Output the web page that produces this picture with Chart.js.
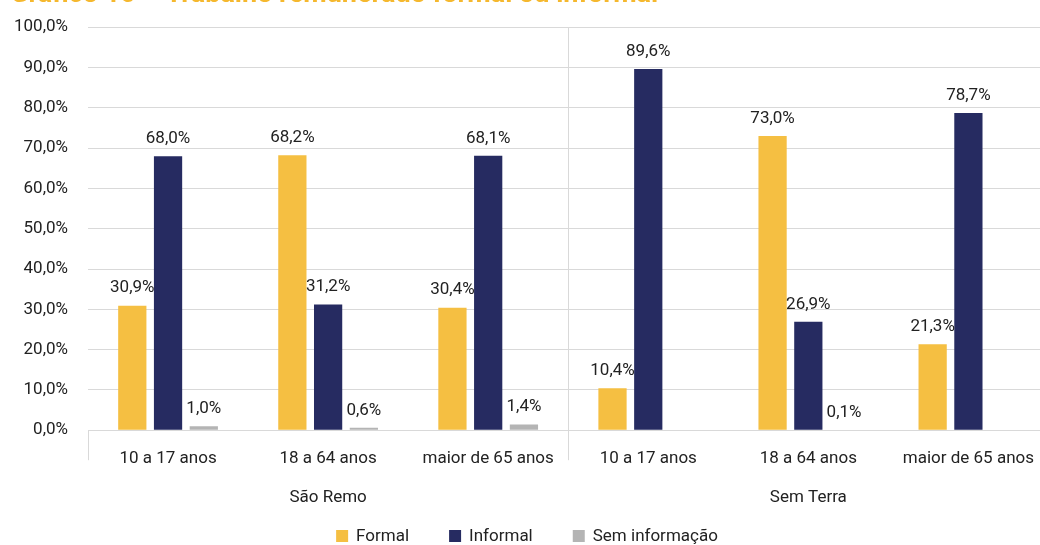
<!DOCTYPE html>
<html>
<head>
<meta charset="utf-8">
<script src="https://cdn.jsdelivr.net/npm/chart.js@4"></script>
<style>
  body { margin: 0; overflow: hidden; background: #fff; }
  #title { position: absolute; left: 10px; top: -20px; font: bold 27px/27px Roboto, sans-serif; color: #f5b82e; white-space: nowrap; z-index: 1; }
  #wrap { position: absolute; left: -10px; top: -3px; width: 1062px; height: 548px; }
</style>
</head>
<body>
<div id="title">Gráfico 10 – Trabalho remunerado formal ou informal</div>
<div id="wrap"><canvas id="chart"></canvas></div>
<script>
// categories
const ageGroups = ['10 a 17 anos', '18 a 64 anos', 'maior de 65 anos', '10 a 17 anos', '18 a 64 anos', 'maior de 65 anos'];
const places = ['São Remo', 'Sem Terra'];

// series values (%)
const formal = [30.9, 68.2, 30.4, 10.4, 73.0, 21.3];
const informal = [68.0, 31.2, 68.1, 89.6, 26.9, 78.7];
const semInfo = [1.0, 0.6, 1.4, null, 0.1, null];

const fmt = v => v.toFixed(1).replace('.', ',') + '%';

// value labels above the bars
const barLabels = {
  id: 'barLabels',
  afterDatasetsDraw(chart) {
    const ctx = chart.ctx;
    ctx.save();
    ctx.font = '17px Roboto, sans-serif';
    ctx.fillStyle = '#222';
    ctx.textAlign = 'center';
    ctx.textBaseline = 'bottom';
    chart.data.datasets.forEach((ds, i) => {
      chart.getDatasetMeta(i).data.forEach((bar, j) => {
        const v = ds.data[j];
        if (v === null || v === undefined) return;
        ctx.fillText(fmt(v), bar.x, bar.y - 9);
      });
    });
    ctx.restore();
  }
};

// group separators
const separators = {
  id: 'separators',
  beforeDatasetsDraw(chart) {
    const ctx = chart.ctx;
    const x = chart.scales.x;
    const area = chart.chartArea;
    const half = (x.getPixelForValue(1) - x.getPixelForValue(0)) / 2;
    ctx.save();
    ctx.strokeStyle = '#d9d9d9';
    ctx.lineWidth = 1;
    const bottom = area.bottom + 30;
    [[x.left, area.bottom], [x.getPixelForValue(2) + half, area.top], [x.right, area.top]].forEach(([px, top]) => {
      ctx.beginPath();
      ctx.moveTo(Math.round(px) + 0.5, top);
      ctx.lineTo(Math.round(px) + 0.5, bottom);
      ctx.stroke();
    });
    ctx.restore();
  }
};

// legend drawn by hand so the spacing can match
const bottomLegend = {
  id: 'bottomLegend',
  afterDraw(chart) {
    const ctx = chart.ctx;
    const box = 12, gapText = 8, gapItem = 40, y = chart.height - 9;
    ctx.save();
    ctx.font = '17px Roboto, sans-serif';
    ctx.textBaseline = 'middle';
    ctx.textAlign = 'left';
    const items = chart.data.datasets.map(ds => ({ text: ds.label, color: ds.backgroundColor, w: ctx.measureText(ds.label).width }));
    const total = items.reduce((s, it) => s + box + gapText + it.w, 0) + gapItem * (items.length - 1);
    let cx = 537 - total / 2;
    items.forEach(it => {
      ctx.fillStyle = it.color;
      ctx.fillRect(cx, y - box / 2, box, box);
      ctx.fillStyle = '#222';
      ctx.fillText(it.text, cx + box + gapText, y + 1);
      cx += box + gapText + it.w + gapItem;
    });
    ctx.restore();
  }
};

const ctx = document.getElementById('chart').getContext('2d');
new Chart(ctx, {
  type: 'bar',
  data: {
    labels: ageGroups,
    datasets: [
      { label: 'Formal', data: formal, backgroundColor: '#f5bf42' },
      { label: 'Informal', data: informal, backgroundColor: '#262b61' },
      { label: 'Sem informação', data: semInfo, backgroundColor: '#b4b4b4' }
    ]
  },
  options: {
    responsive: true,
    maintainAspectRatio: false,
    animation: false,
    categoryPercentage: 0.67,
    barPercentage: 0.79,
    layout: { padding: { top: 12, left: 4, right: 0, bottom: 36 } },
    scales: {
      y: {
        min: 0,
        max: 100,
        ticks: { stepSize: 10, callback: v => fmt(v), color: '#222', font: { family: 'Roboto', size: 17 }, padding: 20 },
        grid: { color: '#d9d9d9', drawTicks: false, tickLength: 0 },
        border: { display: false }
      },
      x: {
        ticks: { color: '#222', font: { family: 'Roboto', size: 17 }, padding: 18 },
        grid: { display: false, drawTicks: false, tickLength: 0 },
        border: { display: false }
      },
      x2: {
        type: 'category',
        labels: places,
        position: 'bottom',
        offset: true,
        weight: 1,
        ticks: { color: '#222', font: { family: 'Roboto', size: 17 }, padding: 1 },
        grid: { display: false, drawTicks: false, tickLength: 0 },
        border: { display: false }
      }
    },
    plugins: {
      legend: { display: false },
      tooltip: { enabled: false }
    }
  },
  plugins: [separators, barLabels, bottomLegend]
});
</script>
</body>
</html>
